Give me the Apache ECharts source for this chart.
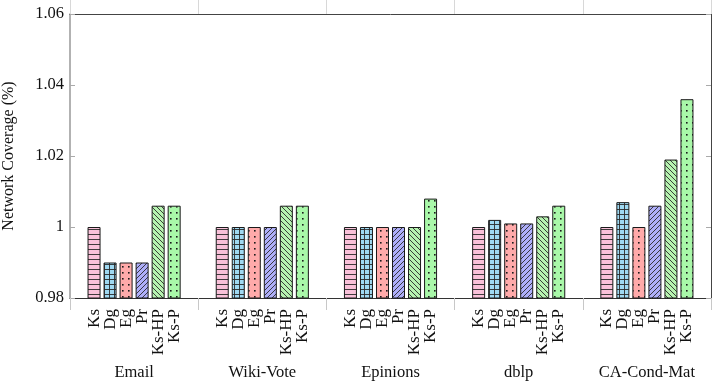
<!DOCTYPE html>
<html>
<head>
<meta charset="utf-8">
<script src="https://cdn.jsdelivr.net/npm/echarts@6/dist/echarts.min.js"></script>
<style>
  html, body { margin: 0; padding: 0; background: #fff; }
  #chart { width: 717px; height: 384px; }
</style>
</head>
<body>
<div id="chart"></div>
<script>
// datasets and methods
let groups = ['Email', 'Wiki-Vote', 'Epinions', 'dblp', 'CA-Cond-Mat']
let methods = ['Ks', 'Dg', 'Eg', 'Pr', 'Ks-HP', 'Ks-P']

// coverage per dataset, same order as methods
let email = [1, 0.99, 0.99, 0.99, 1.006, 1.006]
let wikiVote = [1, 1, 1, 1, 1.006, 1.006]
let epinions = [1, 1, 1, 1, 1, 1.008]
let dblp = [1, 1.002, 1.001, 1.001, 1.003, 1.006]
let caCondMat = [1, 1.007, 1, 1.006, 1.019, 1.036]

let yTicks = [0.98, 1, 1.02, 1.04, 1.06]

let allValues = [email, wikiVote, epinions, dblp, caCondMat]

// small canvas tiles for the bar fill patterns
function makePattern(fill, kind) {
    let s = (kind === 'dots') ? 6 : 5
    let c = document.createElement('canvas')
    c.width = s
    c.height = s
    let ctx = c.getContext('2d')
    ctx.fillStyle = fill
    ctx.fillRect(0, 0, s, s)
    ctx.strokeStyle = '#2a2a2a'
    ctx.fillStyle = '#1a1a1a'
    ctx.lineWidth = 0.9
    ctx.beginPath()
    switch (kind) {
        case 'hlines':
            ctx.moveTo(0, s - 0.5); ctx.lineTo(s, s - 0.5)
            break
        case 'grid':
            ctx.moveTo(0, s - 0.5); ctx.lineTo(s, s - 0.5)
            ctx.moveTo(s - 0.5, 0); ctx.lineTo(s - 0.5, s)
            break
        case 'ne':
            ctx.moveTo(-1, s + 1); ctx.lineTo(s + 1, -1)
            ctx.moveTo(-1, 1); ctx.lineTo(1, -1)
            ctx.moveTo(s - 1, s + 1); ctx.lineTo(s + 1, s - 1)
            break
        case 'nw':
            ctx.moveTo(-1, -1); ctx.lineTo(s + 1, s + 1)
            ctx.moveTo(s - 1, -1); ctx.lineTo(s + 1, 1)
            ctx.moveTo(-1, s - 1); ctx.lineTo(1, s + 1)
            break
    }
    ctx.stroke()
    if (kind === 'dots') {
        ctx.fillRect(2, 2, 1.6, 1.6)
    }
    return { image: c, repeat: 'repeat' }
}

let fills = [
    makePattern('#f9c1d9', 'hlines'),
    makePattern('#9fd9f2', 'grid'),
    makePattern('#ffaaaa', 'dots'),
    makePattern('#aeaef9', 'ne'),
    makePattern('#b6f3b0', 'nw'),
    makePattern('#a9f8a9', 'dots')
]

// 8 slots per group: gap, 6 bars, gap
let slotLabels = []
let barData = []
groups.forEach(function(g, gi) {
    slotLabels.push('')
    barData.push('-')
    methods.forEach(function(m, mi) {
        slotLabels.push(m)
        barData.push({ value: allValues[gi][mi], itemStyle: { color: fills[mi] } })
    })
    slotLabels.push('')
    barData.push('-')
})

let font = '"Liberation Serif", "DejaVu Serif", serif'

let chart = echarts.init(document.getElementById('chart'))

let option = {
    animation: false,
    grid: { left: 70, right: 6, top: 14, bottom: 86, outerBoundsMode: 'none', containLabel: false },
    textStyle: { fontFamily: font },
    xAxis: [{
        type: 'category',
        data: slotLabels,
        position: 'bottom',
        axisLine: { lineStyle: { color: '#333', width: 1 } },
        axisTick: { show: false },
        axisLabel: { interval: 0, rotate: 90, margin: 11, fontSize: 17, color: '#111', fontFamily: font }
    }, {
        type: 'category',
        data: groups,
        position: 'bottom',
        axisLine: { show: false },
        axisTick: { show: true, length: 12, lineStyle: { color: '#c8c8c8' } },
        axisLabel: { interval: 0, margin: 66, fontSize: 16.5, color: '#111', fontFamily: font }
    }, {
        type: 'category',
        data: groups,
        position: 'top',
        axisLine: { show: true, lineStyle: { color: '#444' } },
        axisTick: { show: true, length: 14, lineStyle: { color: '#d8d8d8' } },
        axisLabel: { show: false }
    }],
    yAxis: [{
        type: 'value',
        min: yTicks[0],
        max: yTicks[yTicks.length - 1],
        interval: 0.02,
        name: 'Network Coverage (%)',
        nameLocation: 'middle',
        nameGap: 53,
        nameTextStyle: { fontSize: 16, color: '#111', fontFamily: font },
        axisLine: { show: true, lineStyle: { color: '#999', width: 1.5 } },
        axisTick: { show: true, inside: true, length: 5, lineStyle: { color: '#aaa' } },
        axisLabel: { fontSize: 16.5, color: '#111', margin: 6, fontFamily: font },
        splitLine: { show: false }
    }, {
        type: 'value',
        position: 'right',
        min: yTicks[0],
        max: yTicks[yTicks.length - 1],
        interval: 0.02,
        axisLine: { show: true, lineStyle: { color: '#444' } },
        axisTick: { show: true, inside: true, length: 5, lineStyle: { color: '#aaa' } },
        axisLabel: { show: false },
        splitLine: { show: false }
    }],
    series: [{
        type: 'bar',
        xAxisIndex: 0,
        yAxisIndex: 0,
        barWidth: 13,
        itemStyle: { borderColor: '#1a1a1a', borderWidth: 1 },
        data: barData
    }]
}

chart.setOption(option)
</script>
</body>
</html>
